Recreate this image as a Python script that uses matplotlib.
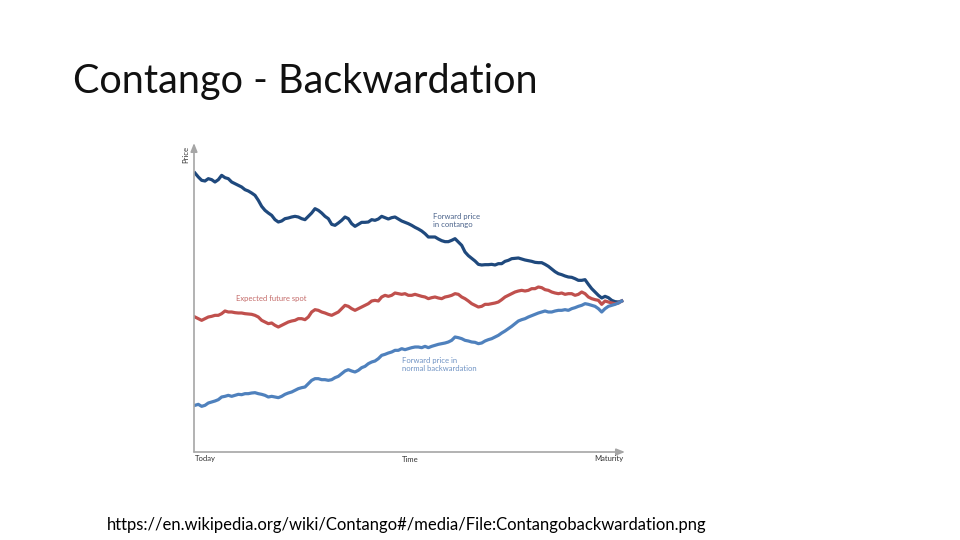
import numpy as np
import matplotlib
matplotlib.use("Agg")
import matplotlib.pyplot as plt

# price levels, equally spaced in time from Today to Maturity
contango = [
    837, 825, 815, 813, 820, 817, 810, 817, 830, 823,
    820, 810, 805, 800, 795, 787, 783, 777, 770, 755,
    737, 725, 717, 710, 697, 690, 693, 700, 702, 705,
    707, 705, 700, 697, 707, 717, 730, 725, 717, 707,
    700, 683, 680, 687, 695, 705, 700, 685, 677, 683,
    689, 689, 690, 697, 695, 699, 707, 703, 699, 703,
    705, 699, 693, 689, 685, 680, 674, 669, 663, 655,
    645, 645, 645, 639, 634, 631, 631, 635, 640, 630,
    620, 600, 589, 581, 573, 563, 561, 562, 562, 563,
    561, 565, 565, 572, 575, 580, 581, 582, 579, 576,
    574, 572, 569, 568, 568, 563, 557, 549, 541, 535,
    532, 528, 525, 524, 520, 515, 515, 517, 503, 490,
    480, 470, 462, 467, 463, 455, 451, 450, 453,
]
expected_spot = [
    405, 400, 395, 400, 405, 407, 410, 410, 415, 423,
    420, 420, 418, 417, 417, 415, 414, 413, 410, 405,
    395, 390, 385, 387, 380, 375, 380, 385, 390, 393,
    395, 400, 400, 397, 405, 420, 427, 425, 420, 417,
    413, 410, 415, 420, 430, 440, 437, 430, 425, 430,
    435, 440, 445, 453, 455, 453, 465, 470, 467, 470,
    477, 475, 473, 475, 470, 470, 473, 470, 467, 465,
    460, 463, 465, 462, 460, 465, 467, 470, 475, 473,
    465, 460, 453, 445, 440, 435, 437, 443, 443, 445,
    447, 450, 457, 465, 470, 475, 480, 483, 485, 483,
    485, 490, 490, 495, 493, 487, 485, 480, 477, 475,
    477, 473, 475, 475, 470, 473, 480, 475, 465, 460,
    457, 455, 443, 453, 450, 447, 445, 447, 453,
]
backwardation = [
    140, 143, 137, 140, 147, 150, 153, 157, 165, 167,
    170, 167, 170, 173, 172, 175, 175, 177, 178, 175,
    173, 170, 165, 167, 165, 163, 167, 173, 177, 180,
    185, 190, 193, 195, 205, 215, 220, 220, 217, 217,
    215, 217, 223, 227, 235, 243, 247, 243, 240, 245,
    253, 257, 265, 270, 273, 280, 290, 293, 297, 300,
    305, 305, 310, 307, 310, 313, 315, 315, 313, 317,
    313, 317, 320, 323, 325, 327, 330, 335, 345, 343,
    340, 335, 333, 330, 329, 325, 327, 333, 337, 340,
    345, 350, 357, 363, 370, 377, 385, 393, 397, 400,
    405, 409, 413, 417, 420, 423, 420, 420, 423, 425,
    425, 427, 425, 430, 433, 437, 440, 445, 443, 440,
    437, 430, 420, 430, 437, 440, 443, 447, 453,
]

DARK = "#1f497d"
RED = "#c0504d"
LIGHT = "#4f81bd"
AXIS = "#a6a6a6"
FONT = ["Lato", "DejaVu Sans"]

fig = plt.figure(figsize=(9.6, 5.4), dpi=100)
fig.patch.set_facecolor("white")

# axes box in pixels: x 194..625, y 143..452
ax = fig.add_axes([194 / 960, 1 - 452 / 540, (625 - 194) / 960, (452 - 143) / 540])
ax.set_facecolor("white")

for series, color in [(contango, DARK), (expected_spot, RED), (backwardation, LIGHT)]:
    t = np.linspace(0, 1, len(series))
    ax.plot(t, series, color=color, lw=2.3, solid_joinstyle="round")

ax.set_xlim(-0.0023, 1.0077)
ax.set_ylim(0, 927)
for s in ax.spines.values():
    s.set_visible(False)
ax.set_xticks([])
ax.set_yticks([])

arrow = dict(arrowstyle="-|>,head_length=0.5,head_width=0.2", color=AXIS, lw=1.2,
             shrinkA=0, shrinkB=0)
ax.annotate("", xy=(1, 0), xytext=(0, 0), xycoords="axes fraction", arrowprops=arrow)
ax.annotate("", xy=(0, 1), xytext=(0, 0), xycoords="axes fraction", arrowprops=arrow)


def px(x, y):
    return x / 960, 1 - y / 540


small = dict(family=FONT, fontsize=5.5, va="center")
fig.text(*px(186, 155), "Price", rotation=90, ha="center", color="#333333", **small)
fig.text(*px(195, 458), "Today", ha="left", color="#333333", **small)
fig.text(*px(410, 460), "Time", ha="center", color="#333333", **small)
fig.text(*px(623, 458), "Maturity", ha="right", color="#333333", **small)
fig.text(*px(433, 220.5), "Forward price\nin contango", ha="left", color="#4a628a",
         linespacing=1.3, **small)
fig.text(*px(236, 299), "Expected future spot", ha="left", color="#c46a68", **small)
fig.text(*px(402, 364.5), "Forward price in\nnormal backwardation", ha="left",
         color="#6f93c4", linespacing=1.3, **small)

fig.text(*px(73, 81), "Contango - Backwardation", ha="left", va="center",
         family=FONT, fontsize=28.5, fontweight="normal", color="#111111")
fig.text(*px(107, 525), "https://en.wikipedia.org/wiki/Contango#/media/File:Contangobackwardation.png",
         ha="left", va="center", family=FONT, fontsize=12, color="black")

fig.savefig("out.png", dpi=100, facecolor="white")
